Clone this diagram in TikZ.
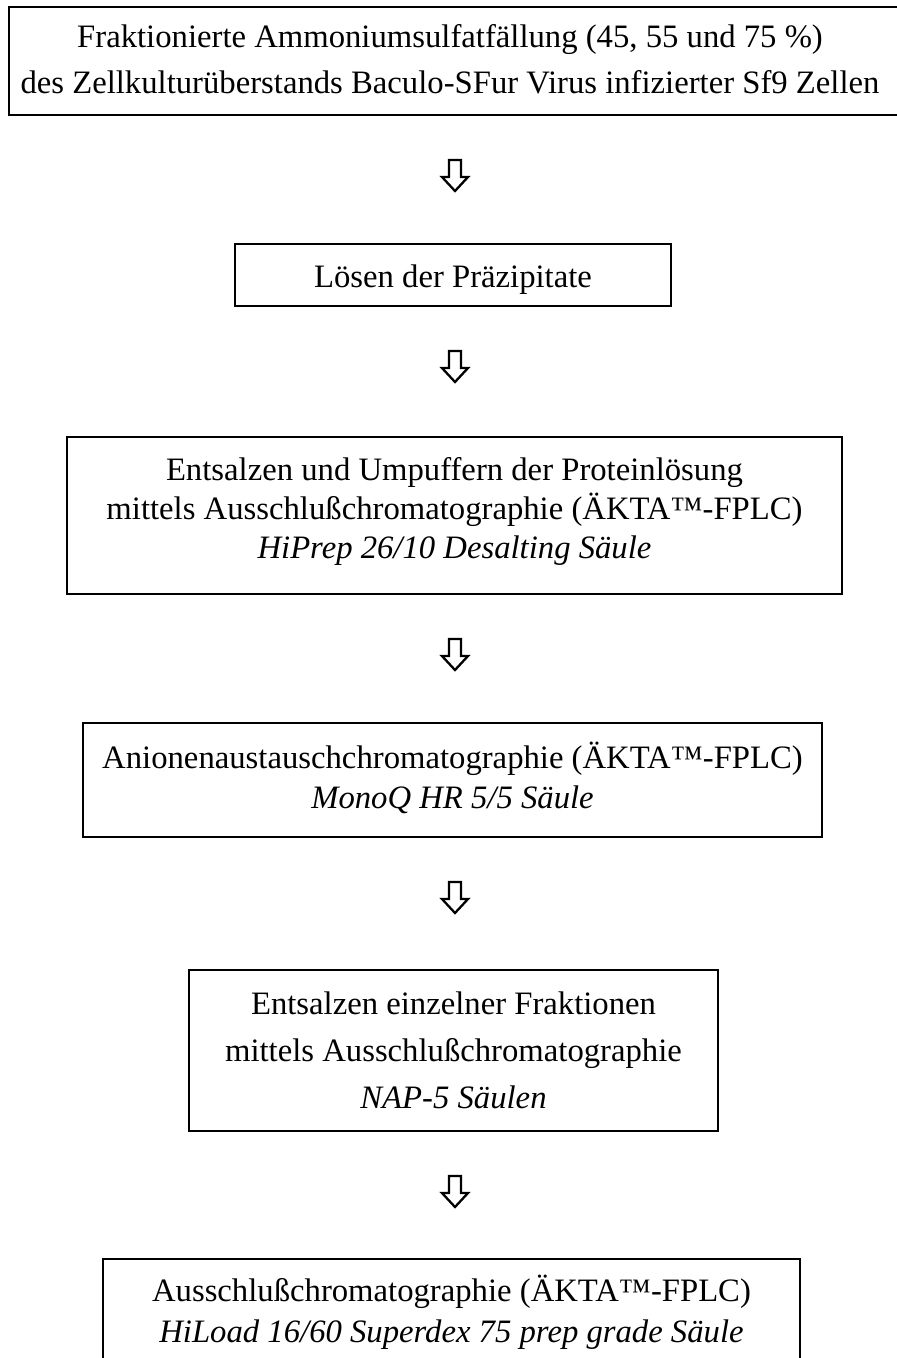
\documentclass[tikz,border=0pt]{standalone}
\usepackage{fontspec}
\setmainfont{Liberation Serif}
\tikzset{
  box/.style={draw=black, line width=1.8pt, inner sep=0pt},
  txt/.style={anchor=base, inner sep=0pt, font=\fontsize{32.7}{40}\selectfont},
  itxt/.style={anchor=base, inner sep=0pt, font=\fontsize{32.7}{40}\selectfont\itshape},
  arrowline/.style={draw=black, line width=2.3pt, line join=miter},
  pics/downarrow/.style={code={
    \draw[arrowline] (-6,0) -- (6,0) -- (6,17) -- (13,17) -- (0,31) -- (-13,17) -- (-6,17) -- cycle;
  }}
}
\begin{document}
\begin{tikzpicture}[x=1pt,y=-1pt]
\useasboundingbox (0,0) rectangle (897,1358);
\clip (0,0) rectangle (897,1358);
\fill[white] (0,0) rectangle (897,1358);

% Box 1
\node[box, minimum width=896pt, minimum height=108pt] (b1) at (457,61) {};
\node[txt] (b1l1) at (450,47) {Fraktionierte Ammoniumsulfatfällung (45, 55 und 75 \%)};
\node[txt] (b1l2) at (450,93) {des Zellkulturüberstands Baculo-SFur Virus infizierter Sf9 Zellen};

% Box 2
\node[box, minimum width=436pt, minimum height=62pt] (b2) at (453,275) {};
\node[txt] (b2l1) at (453,287) {Lösen der Präzipitate};

% Box 3
\node[box, minimum width=775pt, minimum height=157pt] (b3) at (454.5,515.5) {};
\node[txt] (b3l1) at (454.5,480) {Entsalzen und Umpuffern der Proteinlösung};
\node[txt] (b3l2) at (454.5,519.5) {mittels Ausschlußchromatographie (ÄKTA™-FPLC)};
\node[itxt] (b3l3) at (454.5,558) {HiPrep 26/10 Desalting Säule};

% Box 4
\node[box, minimum width=739pt, minimum height=114pt] (b4) at (452.5,780) {};
\node[txt] (b4l1) at (452.5,768) {Anionenaustauschchromatographie (ÄKTA™-FPLC)};
\node[itxt] (b4l2) at (452.5,808) {MonoQ HR 5/5 Säule};

% Box 5
\node[box, minimum width=529pt, minimum height=161pt] (b5) at (453.5,1050.5) {};
\node[txt] (b5l1) at (453.5,1014) {Entsalzen einzelner Fraktionen};
\node[txt] (b5l2) at (453.5,1061) {mittels Ausschlußchromatographie};
\node[itxt] (b5l3) at (453.5,1108) {NAP-5 Säulen};

% Box 6
\node[box, minimum width=697pt, minimum height=141pt] (b6) at (451.5,1329.5) {};
\node[txt] (b6l1) at (451.5,1301) {Ausschlußchromatographie (ÄKTA™-FPLC)};
\node[itxt] (b6l2) at (451.5,1342) {HiLoad 16/60 Superdex 75 prep grade Säule};

% Arrows
\coordinate (a1) at (455,160);
\coordinate (a2) at (455,351);
\coordinate (a3) at (455,639);
\coordinate (a4) at (455,882);
\coordinate (a5) at (455,1176);
\pic at (a1) {downarrow};
\pic at (a2) {downarrow};
\pic at (a3) {downarrow};
\pic at (a4) {downarrow};
\pic at (a5) {downarrow};
\end{tikzpicture}
\end{document}
